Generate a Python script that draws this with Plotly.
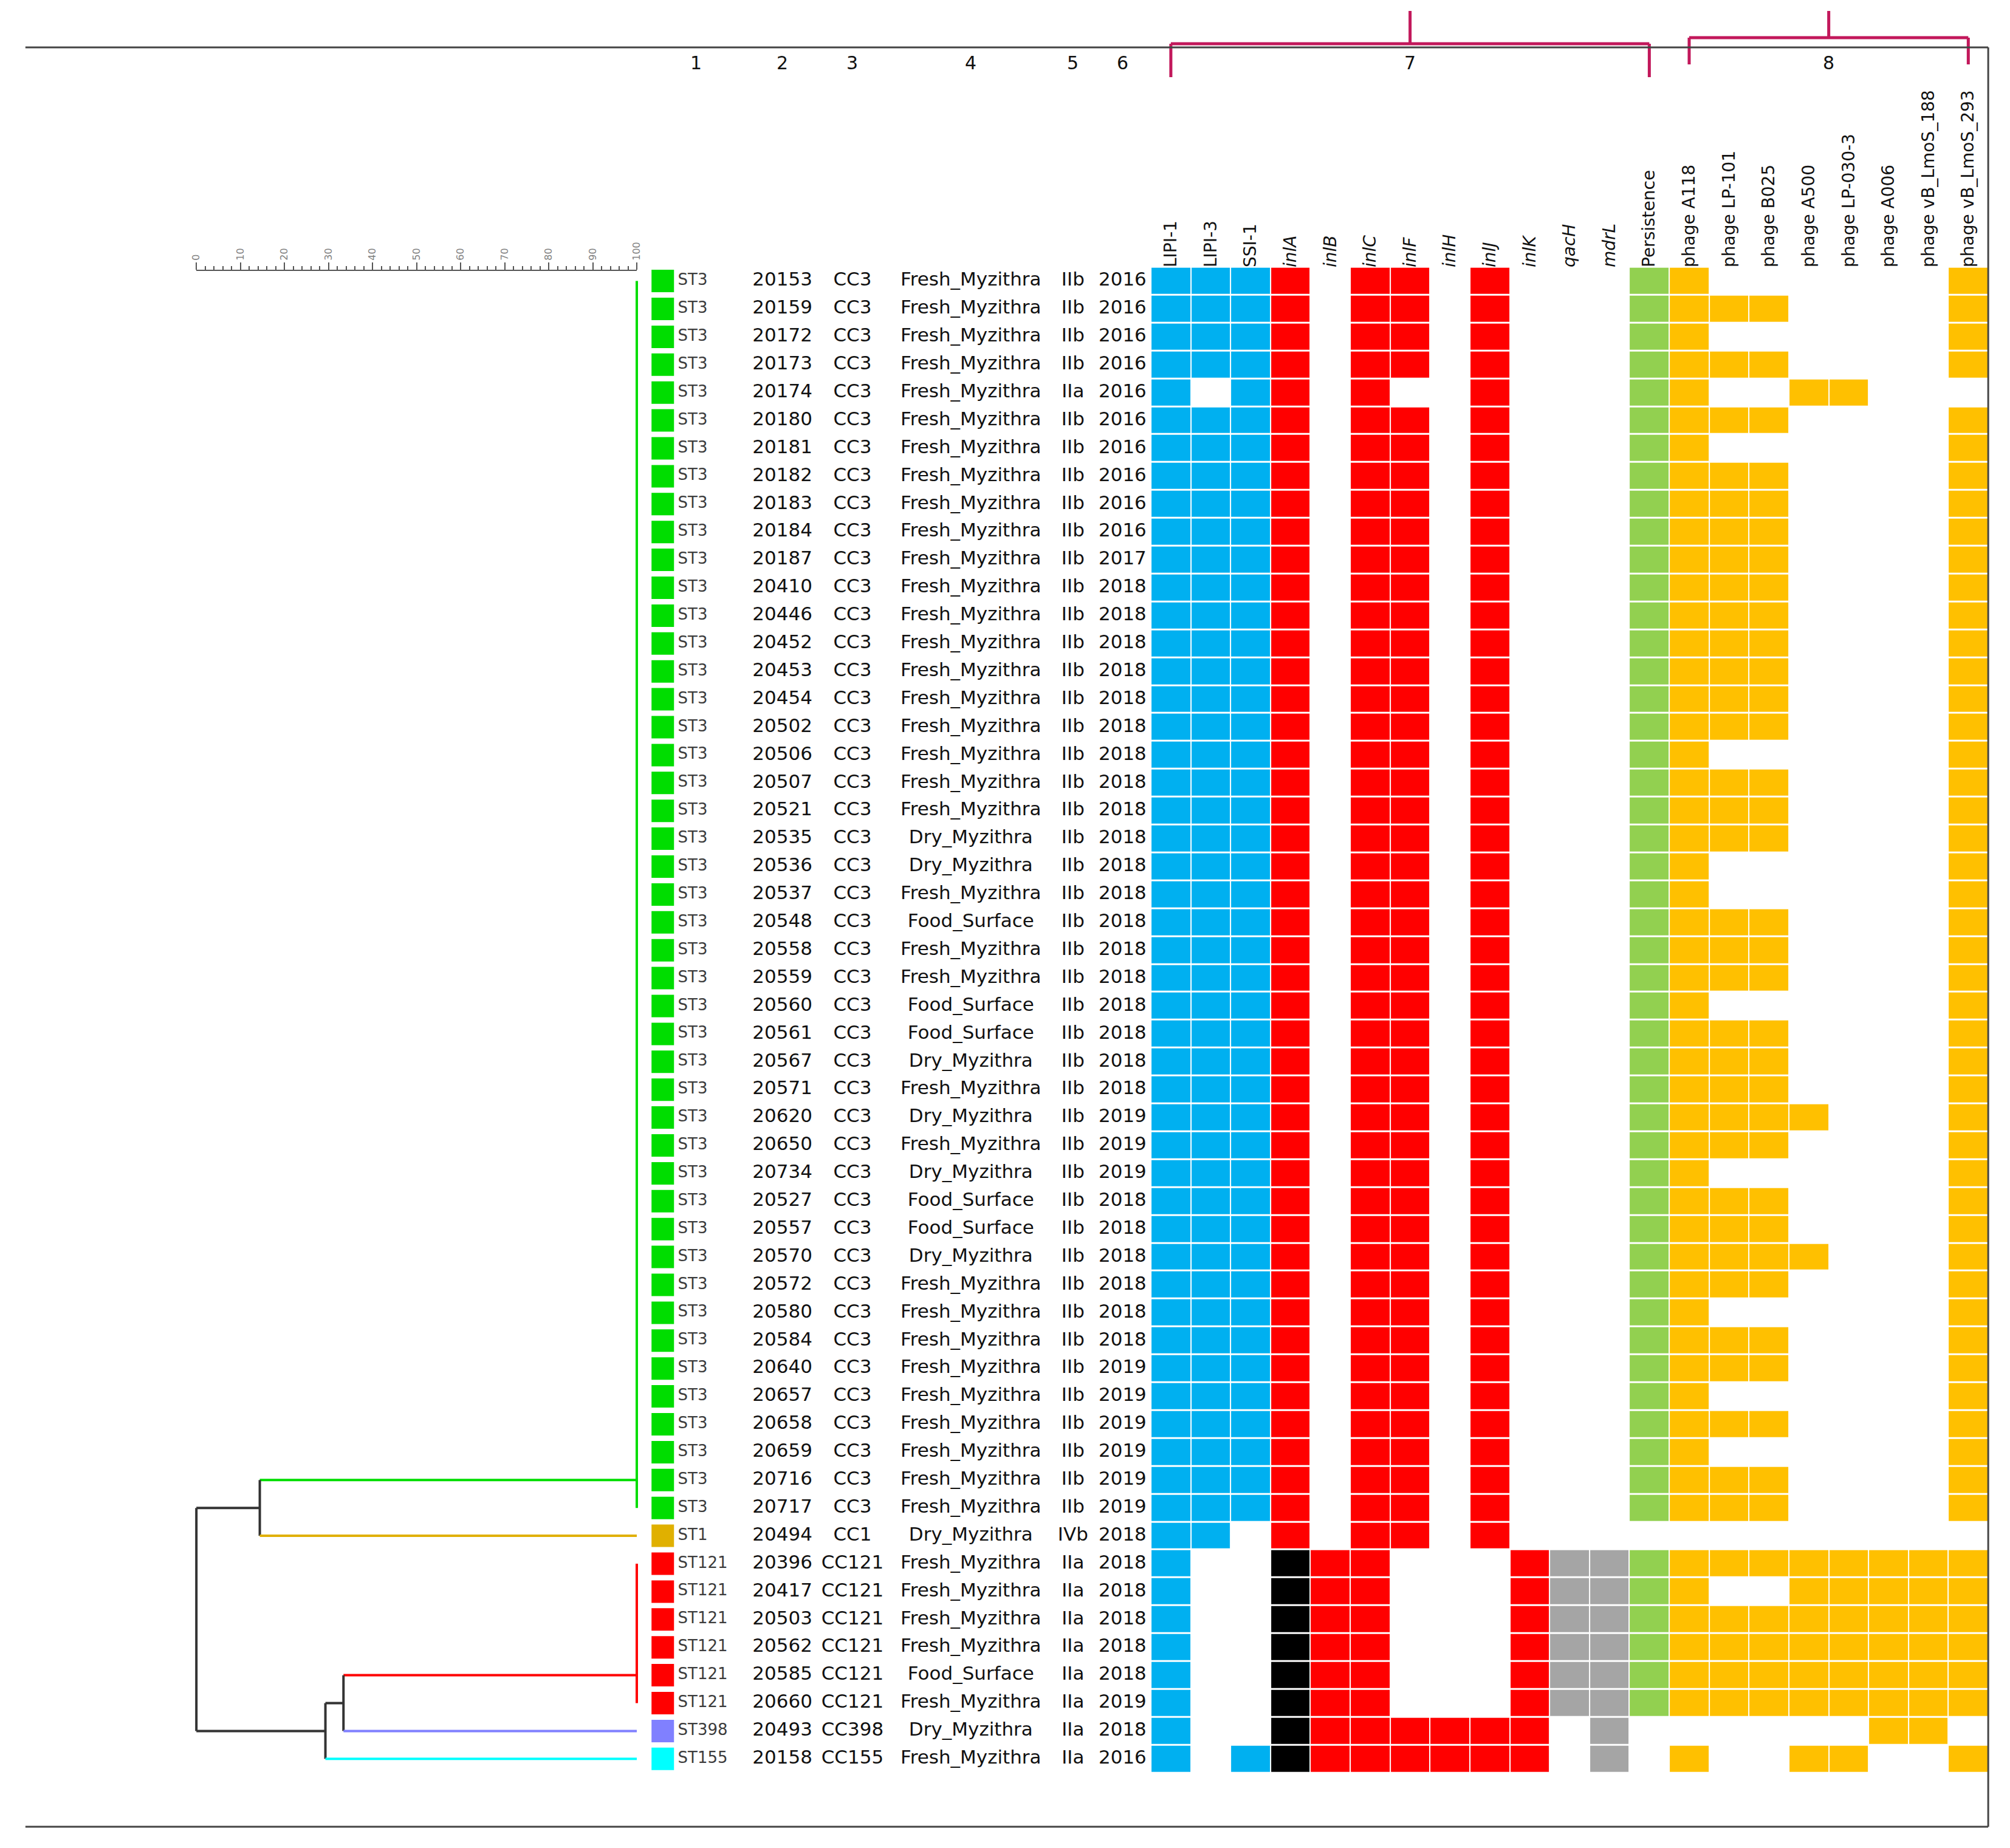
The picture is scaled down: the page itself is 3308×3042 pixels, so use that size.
import plotly.graph_objects as go

# ============================ DATA ============================
ISOLATES = ["20153", "20159", "20172", "20173", "20174", "20180", "20181", "20182", "20183", "20184",
            "20187", "20410", "20446", "20452", "20453", "20454", "20502", "20506", "20507", "20521",
            "20535", "20536", "20537", "20548", "20558", "20559", "20560", "20561", "20567", "20571",
            "20620", "20650", "20734", "20527", "20557", "20570", "20572", "20580", "20584", "20640",
            "20657", "20658", "20659", "20716", "20717",
            "20494",
            "20396", "20417", "20503", "20562", "20585", "20660",
            "20493", "20158"]

ST_TYPES = ["ST3"] * 45 + ["ST1"] + ["ST121"] * 6 + ["ST398", "ST155"]
CC = ["CC3"] * 45 + ["CC1"] + ["CC121"] * 6 + ["CC398", "CC155"]

F, D, S = "Fresh_Myzithra", "Dry_Myzithra", "Food_Surface"
SOURCE = ([F] * 20 +
          [D, D, F, S, F, F, S, S, D, F,
           D, F, D, S, S, D, F, F, F, F,
           F, F, F, F, F] +
          [D] +
          [F, F, F, F, S, F] +
          [D, F])

SEROGROUP = (["IIb"] * 4 + ["IIa"] + ["IIb"] * 40 + ["IVb"] + ["IIa"] * 6 + ["IIa", "IIa"])

YEAR = (["2016"] * 10 + ["2017"] + ["2018"] * 19 + ["2019"] * 3 + ["2018"] * 6 + ["2019"] * 6 +
        ["2018"] + ["2018"] * 5 + ["2019"] + ["2018", "2016"])

FEATURES = ["LIPI-1", "LIPI-3", "SSI-1", "inlA", "inlB", "inlC", "inlF", "inlH", "inlJ", "inlK",
            "qacH", "mdrL", "Persistence", "phage A118", "phage LP-101", "phage B025", "phage A500",
            "phage LP-030-3", "phage A006", "phage vB_LmoS_188", "phage vB_LmoS_293"]

# one character per feature: 0 = absent, 1 = present, 2 = present (variant allele, drawn black)
PROFILES = [
    "111101101000110000001",  # 20153
    "111101101000111100001",  # 20159
    "111101101000110000001",  # 20172
    "111101101000111100001",  # 20173
    "101101001000110011000",  # 20174
    "111101101000111100001",  # 20180
    "111101101000110000001",  # 20181
    "111101101000111100001",  # 20182
    "111101101000111100001",  # 20183
    "111101101000111100001",  # 20184
    "111101101000111100001",  # 20187
    "111101101000111100001",  # 20410
    "111101101000111100001",  # 20446
    "111101101000111100001",  # 20452
    "111101101000111100001",  # 20453
    "111101101000111100001",  # 20454
    "111101101000111100001",  # 20502
    "111101101000110000001",  # 20506
    "111101101000111100001",  # 20507
    "111101101000111100001",  # 20521
    "111101101000111100001",  # 20535
    "111101101000110000001",  # 20536
    "111101101000110000001",  # 20537
    "111101101000111100001",  # 20548
    "111101101000111100001",  # 20558
    "111101101000111100001",  # 20559
    "111101101000110000001",  # 20560
    "111101101000111100001",  # 20561
    "111101101000111100001",  # 20567
    "111101101000111100001",  # 20571
    "111101101000111110001",  # 20620
    "111101101000111100001",  # 20650
    "111101101000110000001",  # 20734
    "111101101000111100001",  # 20527
    "111101101000111100001",  # 20557
    "111101101000111110001",  # 20570
    "111101101000111100001",  # 20572
    "111101101000110000001",  # 20580
    "111101101000111100001",  # 20584
    "111101101000111100001",  # 20640
    "111101101000110000001",  # 20657
    "111101101000111100001",  # 20658
    "111101101000110000001",  # 20659
    "111101101000111100001",  # 20716
    "111101101000111100001",  # 20717
    "110101101000000000000",  # 20494
    "100211000111111111111",  # 20396
    "100211000111110011111",  # 20417
    "100211000111111111111",  # 20503
    "100211000111111111111",  # 20562
    "100211000111111111111",  # 20585
    "100211000111111111111",  # 20660
    "100211111101000000110",  # 20493
    "101211111101010011001",  # 20158
]

TABLE_HEADERS = ["1", "2", "3", "4", "5", "6"]
FEATURE_GROUPS = [("7", "LIPI-1", "Persistence"), ("8", "phage A118", "phage vB_LmoS_293")]

# dendrogram (similarity, %)
LEAF_SIMILARITY = 100.0
CLADES = {  # clade: (first row, last row, row where its branch is drawn)
    "ST3": ("20153", "20717", "20716"),
    "ST1": ("20494", "20494", "20494"),
    "ST121": ("20396", "20660", "20585"),
    "ST398": ("20493", "20493", "20493"),
    "ST155": ("20158", "20158", "20158"),
}
MERGES = [  # node, children, similarity, row where the node's own branch is drawn
    ("A", ("ST3", "ST1"), 14.4, "20717"),
    ("C", ("ST121", "ST398"), 33.4, "20660"),
    ("B", ("C", "ST155"), 29.3, "20493"),
    ("root", ("A", "B"), 0.0, None),
]

# ============================ STYLE / LAYOUT ============================
W, H = 3308, 3042
TOP_PX, ROW_PX = 462.6, 45.9          # centre of first row, row pitch
FONT = "DejaVu Sans"
ST_COLOR = {"ST3": "#00DD00", "ST1": "#E0B000", "ST121": "#FF0000", "ST398": "#8080FF", "ST155": "#00FFFF"}
TREE_BLACK = "#333333"
PALETTE = ["#FFFFFF", "#00B0F0", "#FF0000", "#000000", "#A5A5A5", "#92D050", "#FFC000"]
FEATURE_KIND_CODE = [1, 1, 1, 2, 2, 2, 2, 2, 2, 2, 4, 4, 5, 6, 6, 6, 6, 6, 6, 6, 6]
VARIANT_CODE = 3
ITALIC = {"inlA", "inlB", "inlC", "inlF", "inlH", "inlJ", "inlK", "qacH", "mdrL"}
BRACKET = "#C2185B"
FRAME = "#444444"

SIM0_PX, SIM100_PX = 315, 1044
PPU = (SIM100_PX - SIM0_PX) / 100.0
DENDRO_DOM = (0, 1068)
TABLE_DOM = (1040, 1893)
HEAT_DOM = (1895, 3281)
TABLE_POS = {"swatch": 1087, "st": 1112, "isolate": 1285, "cc": 1401, "source": 1597, "sero": 1766, "year": 1848}

fig = go.Figure()

# ---------------- heatmap ----------------
z = []
for prof in PROFILES:
    row = []
    for j, ch in enumerate(prof):
        row.append(0 if ch == "0" else (VARIANT_CODE if ch == "2" else FEATURE_KIND_CODE[j]))
    z.append(row)
n = len(PALETTE)
cscale = []
for k, c in enumerate(PALETTE):
    cscale += [[k / n, c], [(k + 1) / n, c]]
fig.add_trace(go.Heatmap(z=z, x=FEATURES, y=ISOLATES, colorscale=cscale, zmin=-0.5, zmax=n - 0.5,
                         showscale=False, xgap=2, ygap=3, hoverinfo="skip",
                         xaxis="x3", yaxis="y"))

# ---------------- dendrogram ----------------
segs = {}


def add_seg(color, xs, ys):
    d = segs.setdefault(color, ([], []))
    d[0].extend(xs + [None])
    d[1].extend(ys + [None])


node_sim = {k: LEAF_SIMILARITY for k in CLADES}
node_row = {k: v[2] for k, v in CLADES.items()}
for clade, (first, last, _) in CLADES.items():
    if first != last:
        add_seg(ST_COLOR[clade], [LEAF_SIMILARITY, LEAF_SIMILARITY], [first, last])
for name, children, sim, row in MERGES:
    rows = [node_row[c] for c in children]
    idx = sorted(rows, key=ISOLATES.index)
    add_seg(TREE_BLACK, [sim, sim], [idx[0], idx[-1]])
    for c in children:
        col = ST_COLOR[c] if c in CLADES else TREE_BLACK
        add_seg(col, [sim, node_sim[c]], [node_row[c], node_row[c]])
    node_sim[name] = sim
    node_row[name] = row
for color, (xs, ys) in segs.items():
    fig.add_trace(go.Scatter(x=xs, y=ys, mode="lines", line=dict(color=color, width=4),
                             hoverinfo="skip", showlegend=False, xaxis="x", yaxis="y"))

# scale bar carrier (invisible)
fig.add_trace(go.Scatter(x=[0, 100], y=[ISOLATES[0]] * 2, mode="markers", marker=dict(opacity=0),
                         hoverinfo="skip", showlegend=False, xaxis="x2", yaxis="y"))

# ---------------- table ----------------
fig.add_trace(go.Scatter(x=[TABLE_POS["swatch"]] * len(ISOLATES), y=ISOLATES, mode="markers",
                         marker=dict(symbol="square", size=37, color=[ST_COLOR[s] for s in ST_TYPES],
                                     line=dict(width=0)),
                         hoverinfo="skip", showlegend=False, xaxis="x4", yaxis="y", cliponaxis=False))
fig.add_trace(go.Scatter(x=[TABLE_POS["st"]] * len(ISOLATES), y=ISOLATES, mode="text", text=ST_TYPES,
                         textposition="middle right", textfont=dict(family=FONT, size=26, color="#3c3c3c"),
                         hoverinfo="skip", showlegend=False, xaxis="x4", yaxis="y", cliponaxis=False))
for key, vals in [("isolate", ISOLATES), ("cc", CC), ("source", SOURCE), ("sero", SEROGROUP), ("year", YEAR)]:
    fig.add_trace(go.Scatter(x=[TABLE_POS[key]] * len(ISOLATES), y=ISOLATES, mode="text", text=vals,
                             textposition="middle center",
                             textfont=dict(family=FONT, size=31, color="#111111"),
                             hoverinfo="skip", showlegend=False, xaxis="x4", yaxis="y", cliponaxis=False))

# ---------------- annotations / shapes ----------------
annotations = []
shapes = []
for lab, key in zip(TABLE_HEADERS, ["st", "isolate", "cc", "source", "sero", "year"]):
    x = TABLE_POS[key] + (30 if key == "st" else 0)
    annotations.append(dict(x=x, y=1 - 104 / H, xref="x4", yref="paper", text=lab, showarrow=False,
                            xanchor="center", yanchor="middle",
                            font=dict(family=FONT, size=30, color="#111111")))

bracket_geom = [(72 / H, 127 / H), (62 / H, 106 / H)]
for (lab, a, b), (yh, yl) in zip(FEATURE_GROUPS, bracket_geom):
    i0, i1 = FEATURES.index(a), FEATURES.index(b)
    mid = (i0 + i1) / 2
    line = dict(color=BRACKET, width=5)
    shapes.append(dict(type="line", xref="x3", yref="paper", x0=i0, x1=i1, y0=1 - yh, y1=1 - yh, line=line))
    shapes.append(dict(type="line", xref="x3", yref="paper", x0=i0, x1=i0, y0=1 - yh, y1=1 - yl, line=line))
    shapes.append(dict(type="line", xref="x3", yref="paper", x0=i1, x1=i1, y0=1 - yh, y1=1 - yl, line=line))
    shapes.append(dict(type="line", xref="x3", yref="paper", x0=mid, x1=mid, y0=1 - 18 / H, y1=1 - yh, line=line))
    annotations.append(dict(x=mid, y=1 - 104 / H, xref="x3", yref="paper", text=lab, showarrow=False,
                            xanchor="center", yanchor="middle",
                            font=dict(family=FONT, size=30, color="#111111")))

fl = dict(color=FRAME, width=3)
shapes.append(dict(type="line", xref="paper", yref="paper", x0=32 / W, x1=3281 / W, y0=1 - 78 / H, y1=1 - 78 / H, line=fl))
shapes.append(dict(type="line", xref="paper", yref="paper", x0=3281 / W, x1=3281 / W, y0=1 - 78 / H, y1=1 - 3007 / H, line=fl))
shapes.append(dict(type="line", xref="paper", yref="paper", x0=32 / W, x1=3281 / W, y0=1 - 3007 / H, y1=1 - 3007 / H, line=fl))

ticktext = [("<i>%s</i>" % f) if f in ITALIC else f for f in FEATURES]

fig.update_layout(
    width=W, height=H, margin=dict(l=0, r=0, t=0, b=0),
    paper_bgcolor="white", plot_bgcolor="rgba(0,0,0,0)",
    showlegend=False,
    annotations=annotations, shapes=shapes,
    yaxis=dict(domain=[0, 1], type="category", categoryorder="array", categoryarray=ISOLATES,
               range=[(H - TOP_PX) / ROW_PX, -TOP_PX / ROW_PX], visible=False, fixedrange=True),
    xaxis=dict(domain=[DENDRO_DOM[0] / W, DENDRO_DOM[1] / W],
               range=[(DENDRO_DOM[0] - SIM0_PX) / PPU, (DENDRO_DOM[1] - SIM0_PX) / PPU],
               visible=False, anchor="y"),
    xaxis2=dict(domain=[SIM0_PX / W, SIM100_PX / W], range=[0, 100], side="top", anchor="free",
                position=1 - 445 / H, showline=True, linecolor="#555555", linewidth=2,
                ticks="outside", ticklen=12, tickwidth=2, tickcolor="#555555", dtick=10, tick0=0,
                tickangle=-90, tickfont=dict(family=FONT, size=16, color="#808080"),
                minor=dict(dtick=2, ticks="outside", ticklen=6, tickwidth=1.5, tickcolor="#555555"),
                showgrid=False, zeroline=False),
    xaxis3=dict(domain=[HEAT_DOM[0] / W, HEAT_DOM[1] / W], type="category", side="top", anchor="free",
                position=1 - 440 / H, tickmode="array", tickvals=FEATURES, ticktext=ticktext,
                tickangle=-90, tickfont=dict(family=FONT, size=28, color="#111111"),
                ticks="", showline=False, showgrid=False, zeroline=False, range=[-0.5, len(FEATURES) - 0.5]),
    xaxis4=dict(domain=[TABLE_DOM[0] / W, TABLE_DOM[1] / W], range=[TABLE_DOM[0], TABLE_DOM[1]],
                visible=False, anchor="y"),
)

fig.write_html("out.html", config={"displayModeBar": False},
               post_script="document.body.style.margin='0';document.body.style.overflow='hidden';")
